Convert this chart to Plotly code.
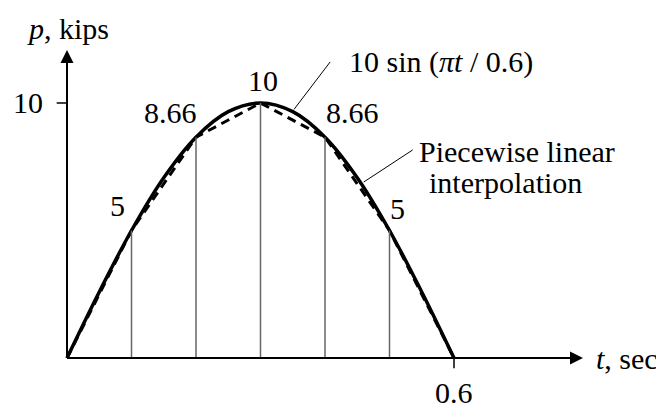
import plotly.graph_objs as go

# sampled values of 10 sin(pi t / 0.6), read at 0.05 s steps
t_curve = [0, 0.05, 0.1, 0.15, 0.2, 0.25, 0.3, 0.35, 0.4, 0.45, 0.5, 0.55, 0.6]
p_curve = [0, 2.59, 5, 7.07, 8.66, 9.66, 10, 9.66, 8.66, 7.07, 5, 2.59, 0]

# piecewise linear points
t_pts = [0, 0.1, 0.2, 0.3, 0.4, 0.5, 0.6]
p_pts = [0, 5, 8.66, 10, 8.66, 5, 0]

point_labels = ['5', '8.66', '10', '8.66', '5']
label_t = [0.079, 0.16, 0.304, 0.442, 0.513]
label_p = [6.0, 9.61, 10.9, 9.61, 5.88]

FONT = 'Liberation Serif, Times New Roman, serif'
FS = 30


def run_1():
    curve = go.Scatter(x=t_curve, y=p_curve, mode='lines',
                       line=dict(color='black', width=3.5, shape='spline'),
                       hoverinfo='skip')
    linear = go.Scatter(x=t_pts, y=p_pts, mode='lines',
                        line=dict(color='black', width=3, dash='9px,6px'),
                        hoverinfo='skip')

    shapes = []
    for t, p in zip(t_pts[1:-1], p_pts[1:-1]):
        shapes.append(dict(type='line', x0=t, x1=t, y0=0, y1=p,
                           line=dict(color='#666', width=1.5)))
    # axes
    shapes.append(dict(type='line', x0=0, x1=0.78, y0=0, y1=0,
                       line=dict(color='black', width=2)))
    shapes.append(dict(type='line', x0=0, x1=0, y0=0, y1=11.9,
                       line=dict(color='black', width=2)))
    # ticks
    shapes.append(dict(type='line', x0=-0.016, x1=0, y0=10, y1=10,
                       line=dict(color='black', width=1.5)))
    shapes.append(dict(type='line', x0=0.6, x1=0.6, y0=0, y1=-0.4,
                       line=dict(color='black', width=1.5)))
    # leader lines
    shapes.append(dict(type='line', x0=0.408, x1=0.352, y0=11.61, y1=9.75,
                       line=dict(color='black', width=1)))
    shapes.append(dict(type='line', x0=0.536, x1=0.46, y0=8.16, y1=6.9,
                       line=dict(color='black', width=1)))

    ann = []
    for txt, t, p in zip(point_labels, label_t, label_p):
        ann.append(dict(x=t, y=p, text=txt, showarrow=False,
                        xanchor='center', yanchor='middle'))
    ann += [
        dict(x=0.80, y=0, ax=0.76, ay=0, axref='x', ayref='y', text='',
             showarrow=True, arrowhead=2, arrowsize=1.3, arrowwidth=2,
             arrowcolor='black'),
        dict(x=0, y=12.08, ax=0, ay=11.5, axref='x', ayref='y', text='',
             showarrow=True, arrowhead=2, arrowsize=1.3, arrowwidth=2,
             arrowcolor='black'),
        dict(x=0.0016, y=12.94, text='<i>p</i>, kips', showarrow=False,
             xanchor='center', yanchor='middle'),
        dict(x=-0.0605, y=10, text='10', showarrow=False,
             xanchor='center', yanchor='middle'),
        dict(x=0.6, y=-1.37, text='0.6', showarrow=False,
             xanchor='center', yanchor='middle'),
        dict(x=0.868, y=0, text='<i>t</i>, sec', showarrow=False,
             xanchor='center', yanchor='middle'),
        dict(x=0.434, y=11.61, text='10 sin (<i>\u03c0t</i> / 0.6)',
             showarrow=False, xanchor='left', yanchor='middle'),
        dict(x=0.6977, y=8.08, text='Piecewise linear', showarrow=False,
             xanchor='center', yanchor='middle'),
        dict(x=0.68, y=6.9, text='interpolation', showarrow=False,
             xanchor='center', yanchor='middle'),
    ]

    # page body has an 8px margin, so the figure is 8px smaller and the
    # ranges start 8px further in
    layout = go.Layout(
        width=656, height=402, autosize=False,
        margin=dict(l=0, r=0, t=0, b=0),
        paper_bgcolor='white', plot_bgcolor='white',
        showlegend=False,
        font=dict(family=FONT, size=FS, color='black'),
        xaxis=dict(range=[-0.09147, 0.92558], visible=False, fixedrange=True),
        yaxis=dict(range=[-2.039, 13.725], visible=False, fixedrange=True),
        shapes=shapes,
        annotations=ann)
    fig = go.Figure(data=[curve, linear], layout=layout)
    fig.write_html('out.html')


if __name__ == '__main__':
    run_1()
